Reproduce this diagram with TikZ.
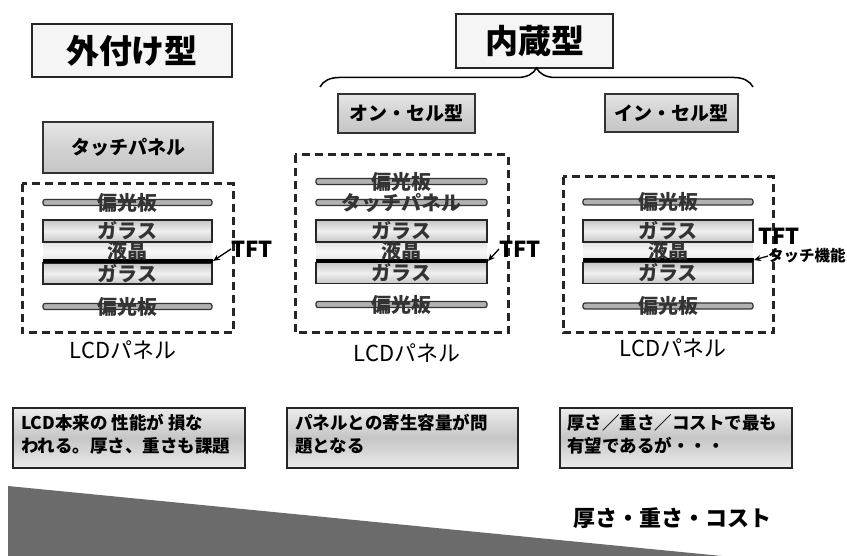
\documentclass[tikz,border=0pt]{standalone}
\usepackage{fontspec}
\setmainfont{Noto Sans CJK JP}
\usetikzlibrary{decorations.pathreplacing,shadows,arrows.meta}
\begin{document}
\begin{tikzpicture}[x=1pt,y=-1pt,
  title/.style={draw=black!85,line width=1.6pt,fill=gray!8,inner sep=0pt,font=\fontsize{33}{33}\selectfont\bfseries},
  metal/.style={draw=black!80,line width=1.5pt,top color=gray!20,bottom color=gray!45,middle color=gray!35,inner sep=0pt,
    drop shadow={shadow xshift=1pt,shadow yshift=-1.5pt,opacity=0.35}},
  subtitle/.style={metal,font=\fontsize{19}{19}\selectfont\bfseries},
  panel/.style={draw=black!85,line width=3pt,dash pattern=on 8pt off 5pt},
  polar/.style={draw=black!80,line width=1.2pt,fill=gray!60,rounded corners=2pt,inner sep=0pt,minimum height=6pt},
  glass/.style={draw=black!85,line width=1.8pt,top color=gray!45,bottom color=gray!45,middle color=gray!12,inner sep=0pt,minimum height=21pt},
  lc/.style={top color=gray!22,bottom color=gray!22,middle color=gray!5,inner sep=0pt,minimum height=18pt},
  layertxt/.style={font=\fontsize{20}{20}\selectfont\bfseries,text=black!80,inner sep=0pt},
  tft/.style={line width=3.5pt,black},
  lbl/.style={font=\fontsize{22}{22}\selectfont\bfseries,inner sep=0pt},
  lcd/.style={font=\fontsize{22}{22}\selectfont,inner sep=0pt},
  note/.style={draw=black!85,line width=1.8pt,top color=gray!15,bottom color=gray!15,middle color=gray!45,
    minimum width=232pt,minimum height=60pt,inner sep=0pt},
  notetxt/.style={font=\fontsize{17.5}{23}\selectfont\bfseries,align=left,inner sep=0pt},
  arr/.style={-{Stealth[length=7pt,width=6pt]},line width=1.3pt}
]
\useasboundingbox (0,0) rectangle (847,556);

% titles
\node[title,minimum width=200pt,minimum height=53pt] (gaitsuke) at (132,50.5) {外付け型};
\node[title,minimum width=157pt,minimum height=54pt] (naizo) at (534.5,41) {内蔵型};
\coordinate (bl) at (320,87);
\coordinate (br) at (753,87);
\draw[line width=1.5pt,decorate,decoration={brace,amplitude=19pt,aspect=0.5}] (bl) -- (br);
\node[subtitle,minimum width=137pt,minimum height=39pt] (oncell) at (406.5,113.5) {オン・セル型};
\node[subtitle,minimum width=133pt,minimum height=38pt] (incell) at (671.5,113) {イン・セル型};
\node[subtitle,minimum width=170pt,minimum height=51pt] (touchL) at (128,147.5) {タッチパネル};

% ---------- left column ----------
\draw[panel] (22,184) rectangle (233,333);
\node[lc,minimum width=169pt] (lcL) at (127.5,251.5) {};
\node[glass,minimum width=169pt,minimum height=22pt] (g1L) at (127.5,231) {};
\node[glass,minimum width=169pt] (g2L) at (127.5,273.5) {};
\node[polar,minimum width=169pt] (p1L) at (127.5,202.5) {};
\node[polar,minimum width=169pt] (p2L) at (127.5,306.5) {};
\coordinate (tLa) at (43,261);
\coordinate (tLb) at (213,261);
\draw[tft] (tLa) -- (tLb);
\node[layertxt] at (p1L) {偏光板};
\node[layertxt] at (g1L) {ガラス};
\node[layertxt] at (127.5,251) {液晶};
\node[layertxt] at (g2L) {ガラス};
\node[layertxt] at (p2L) {偏光板};
\node[lbl,anchor=west] (tftL) at (231,249) {TFT};
\draw[arr] (tftL.west) -- (tLb);
\node[lcd] (lcdL) at (123,350) {LCDパネル};

% ---------- middle column ----------
\draw[panel] (295,155) rectangle (508,333);
\node[lc,minimum width=171pt] (lcM) at (401.5,251.5) {};
\node[glass,minimum width=171pt,minimum height=22pt] (g1M) at (401.5,231) {};
\node[glass,minimum width=171pt] (g2M) at (401.5,273) {};
\node[polar,minimum width=171pt] (p1M) at (401.5,181.5) {};
\node[polar,minimum width=171pt] (tpM) at (401.5,202.5) {};
\node[polar,minimum width=171pt] (p2M) at (401.5,304.5) {};
\coordinate (tMa) at (316,261);
\coordinate (tMb) at (488,261);
\draw[tft] (tMa) -- (tMb);
\node[layertxt] at (p1M) {偏光板};
\node[layertxt] at (tpM) {タッチパネル};
\node[layertxt] at (g1M) {ガラス};
\node[layertxt] at (401.5,251) {液晶};
\node[layertxt] at (g2M) {ガラス};
\node[layertxt] at (p2M) {偏光板};
\node[lbl,anchor=west] (tftM) at (499,249) {TFT};
\draw[arr] (tftM.west) -- (tMb);
\node[lcd] (lcdM) at (407,353) {LCDパネル};

% ---------- right column ----------
\draw[panel] (563,177) rectangle (773,333);
\node[lc,minimum width=170pt] (lcR) at (668,251.5) {};
\node[glass,minimum width=170pt,minimum height=22pt] (g1R) at (668,231) {};
\node[glass,minimum width=170pt] (g2R) at (668,273) {};
\node[polar,minimum width=170pt] (p1R) at (668,202) {};
\node[polar,minimum width=170pt] (p2R) at (668,306) {};
\coordinate (tRa) at (583,260);
\coordinate (tRb) at (754,260);
\draw[tft] (tRa) -- (tRb);
\node[layertxt] at (p1R) {偏光板};
\node[layertxt] at (g1R) {ガラス};
\node[layertxt] at (668,251) {液晶};
\node[layertxt] at (g2R) {ガラス};
\node[layertxt] at (p2R) {偏光板};
\node[lbl,anchor=west] (tftR) at (758,236) {TFT};
\node[font=\fontsize{15.5}{15.5}\selectfont\bfseries,inner sep=0pt,anchor=west] (touchR) at (768,256) {タッチ機能};
\draw[arr] (touchR.west) -- (tRb);
\node[lcd] (lcdR) at (673,348) {LCDパネル};

% ---------- notes ----------
\node[note] (n1) at (129,438) {};
\node[notetxt,anchor=north west] at (21,414) {LCD本来の 性能が 損な\\われる。厚さ、重さも課題};
\node[note,minimum width=231pt] (n2) at (402.5,438) {};
\node[notetxt,anchor=north west] at (295,414) {パネルとの寄生容量が問\\題となる};
\node[note] (n3) at (676,438) {};
\node[notetxt,anchor=north west] at (567,414) {厚さ／重さ／コストで最も\\有望であるが・・・};

% ---------- wedge ----------
\fill[black!58] (8,486) -- (722,556) -- (8,556) -- cycle;
\node[font=\fontsize{22}{22}\selectfont\bfseries,inner sep=0pt] (cost) at (672,518) {厚さ・重さ・コスト};
\end{tikzpicture}
\end{document}
